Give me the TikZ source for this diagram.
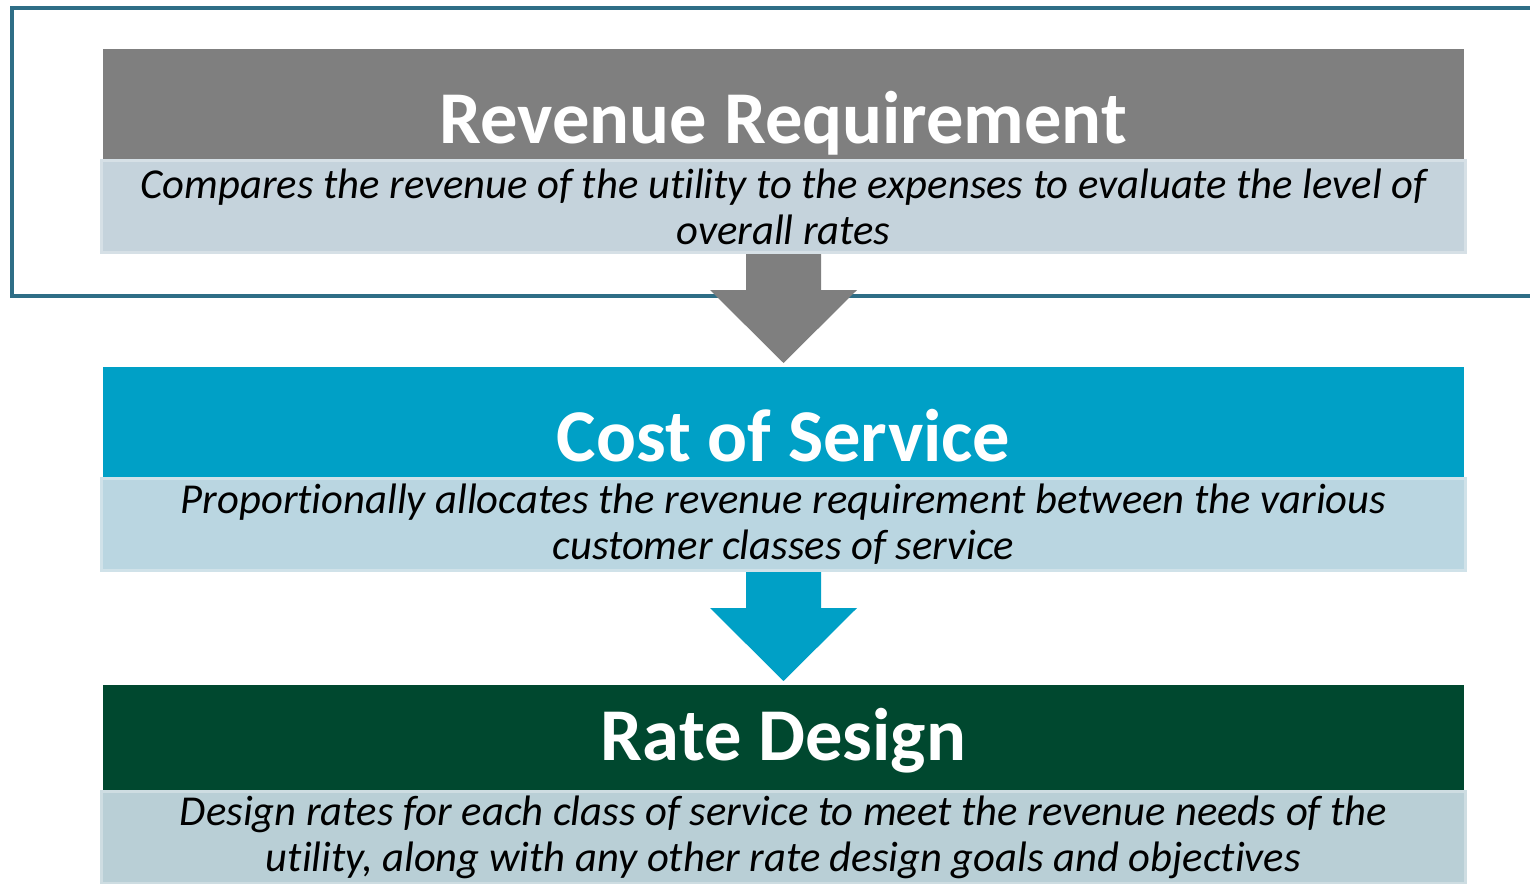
\documentclass[tikz,border=0pt]{standalone}
\usepackage{fontspec}
\setmainfont{Carlito}[Ligatures=NoCommon]
\usetikzlibrary{positioning}
\definecolor{rrgray}{HTML}{7F7F7F}
\definecolor{rrpale}{HTML}{C5D3DC}
\definecolor{rrline}{HTML}{D6E0E6}
\definecolor{cosblue}{HTML}{00A0C6}
\definecolor{cospale}{HTML}{BAD6E1}
\definecolor{cosline}{HTML}{D0E2E9}
\definecolor{rdgreen}{HTML}{00482F}
\definecolor{rdpale}{HTML}{B9CFD6}
\definecolor{rdline}{HTML}{CEDDE2}
\definecolor{framecol}{HTML}{2E6E86}
\tikzset{
x=1pt, y=-1pt, % one unit per pixel of the slide, y runs downwards
every node/.style={align=center,inner sep=0pt},
headbox/.style={rectangle, minimum width=1361pt, minimum height=110pt, outer sep=0pt},
bodybox/.style={rectangle, line width=3pt, minimum width=1364pt, minimum height=92pt,
  font=\itshape\fontsize{42.6}{46}\selectfont},
headtitle/.style={anchor=base, text=white, font=\bfseries\fontsize{74.5}{86}\selectfont},
framebox/.style={draw=framecol, line width=4.5pt}
}
% block arrow from the bottom of one box to the top of the next
\newcommand\flowarrow[3]{%
  \fill[#1] ([xshift=-37.5pt]#2.south) -- ([xshift=37.5pt]#2.south)
    -- ([xshift=37.5pt,yshift=-36pt]#2.south) -- ([xshift=73.5pt,yshift=-36pt]#2.south)
    -- ([yshift=4pt]#3.north)
    -- ([xshift=-73.5pt,yshift=-36pt]#2.south) -- ([xshift=-37.5pt,yshift=-36pt]#2.south) -- cycle;}

\begin{document}
\begin{tikzpicture}
   \useasboundingbox (0,0) rectangle (1530,883);
   \draw[framebox] (12,8) rectangle (1560,296);
   % revenue requirement
   \node[headbox, fill=rrgray] (rrhead) at (783.5,104) {};
   \node[bodybox, fill=rrpale, draw=rrline] (rrbody) [below=0pt of rrhead]
      {Compares the revenue of the utility to the expenses to evaluate the level of \\ overall rates};
   \node[headtitle] (rrtitle) at ([yshift=16pt]rrhead.south) {Revenue Requirement};
   % cost of service
   \node[headbox, fill=cosblue] (coshead) [below=113pt of rrbody] {};
   \node[bodybox, fill=cospale, draw=cosline] (cosbody) [below=0pt of coshead]
      {Proportionally allocates the revenue requirement between the various \\ customer classes of service};
   \node[headtitle] (costitle) at ([yshift=16pt]coshead.south) {Cost of Service};
   % rate design
   \node[headbox, fill=rdgreen, minimum height=105pt] (rdhead) [below=113pt of cosbody] {};
   \node[bodybox, fill=rdpale, draw=rdline] (rdbody) [below=0pt of rdhead]
      {Design rates for each class of service to meet the revenue needs of the \\ utility, along with any other rate design goals and objectives};
   \node[headtitle] (rdtitle) at ([yshift=30pt]rdhead.south) {Rate Design};
   \flowarrow{rrgray}{rrbody}{coshead}
   \flowarrow{cosblue}{cosbody}{rdhead}
\end{tikzpicture}
\end{document}
